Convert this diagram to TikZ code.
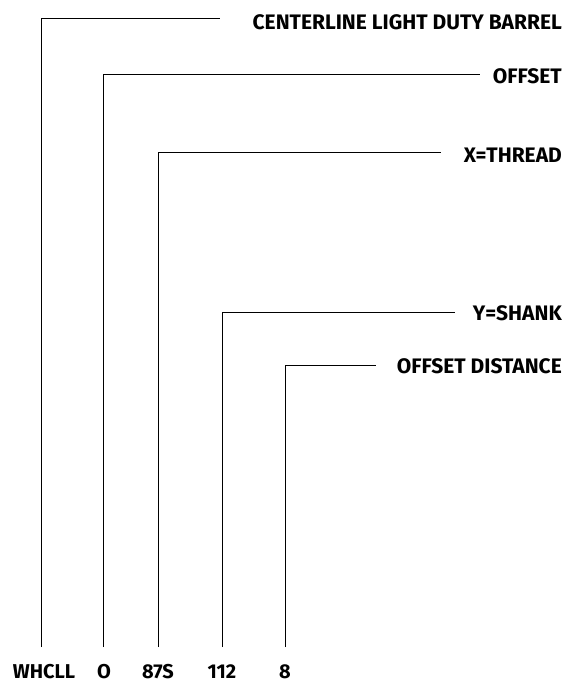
\documentclass[tikz,border=0pt]{standalone}
\usepackage{fontspec}
\setmainfont{Fira Sans}
\begin{document}
\begin{tikzpicture}[x=1pt,y=-1pt,
  lead/.style={draw=black,line width=1pt},
  lbl/.style={font=\bfseries\fontsize{21}{24}\selectfont,anchor=east,inner sep=0pt},
  code/.style={font=\bfseries\fontsize{20}{23}\selectfont,anchor=base,inner sep=0pt}]
\useasboundingbox (0,0) rectangle (566,684);
% bottom code labels
\node[code] (c1) at (44,678) {WHCLL};
\node[code] (c2) at (104,678) {O};
\node[code] (c3) at (158,678) {87S};
\node[code] (c4) at (222,678) {112};
\node[code] (c5) at (285,678) {8};
% right labels
\node[lbl] (l1) at (562,22) {CENTERLINE LIGHT DUTY BARREL};
\node[lbl] (l2) at (562,76) {OFFSET};
\node[lbl] (l3) at (562,155) {X=THREAD};
\node[lbl] (l4) at (562,313) {Y=SHANK};
\node[lbl] (l5) at (562,366) {OFFSET DISTANCE};
% corner coordinates
\coordinate (k1) at (41,19);
\coordinate (k2) at (103,75);
\coordinate (k3) at (158,153);
\coordinate (k4) at (222,312);
\coordinate (k5) at (285,365);
\coordinate (b1) at (41,647);
\coordinate (b2) at (103,647);
\coordinate (b3) at (158,647);
\coordinate (b4) at (222,647);
\coordinate (b5) at (285,647);
\coordinate (e1) at (220,19);
\coordinate (e2) at (480,75);
\coordinate (e3) at (441,153);
\coordinate (e4) at (455,312);
\coordinate (e5) at (376,365);
\draw[lead] (b1) -- (k1) -- (e1);
\draw[lead] (b2) -- (k2) -- (e2);
\draw[lead] (b3) -- (k3) -- (e3);
\draw[lead] (b4) -- (k4) -- (e4);
\draw[lead] (b5) -- (k5) -- (e5);
\end{tikzpicture}
\end{document}
